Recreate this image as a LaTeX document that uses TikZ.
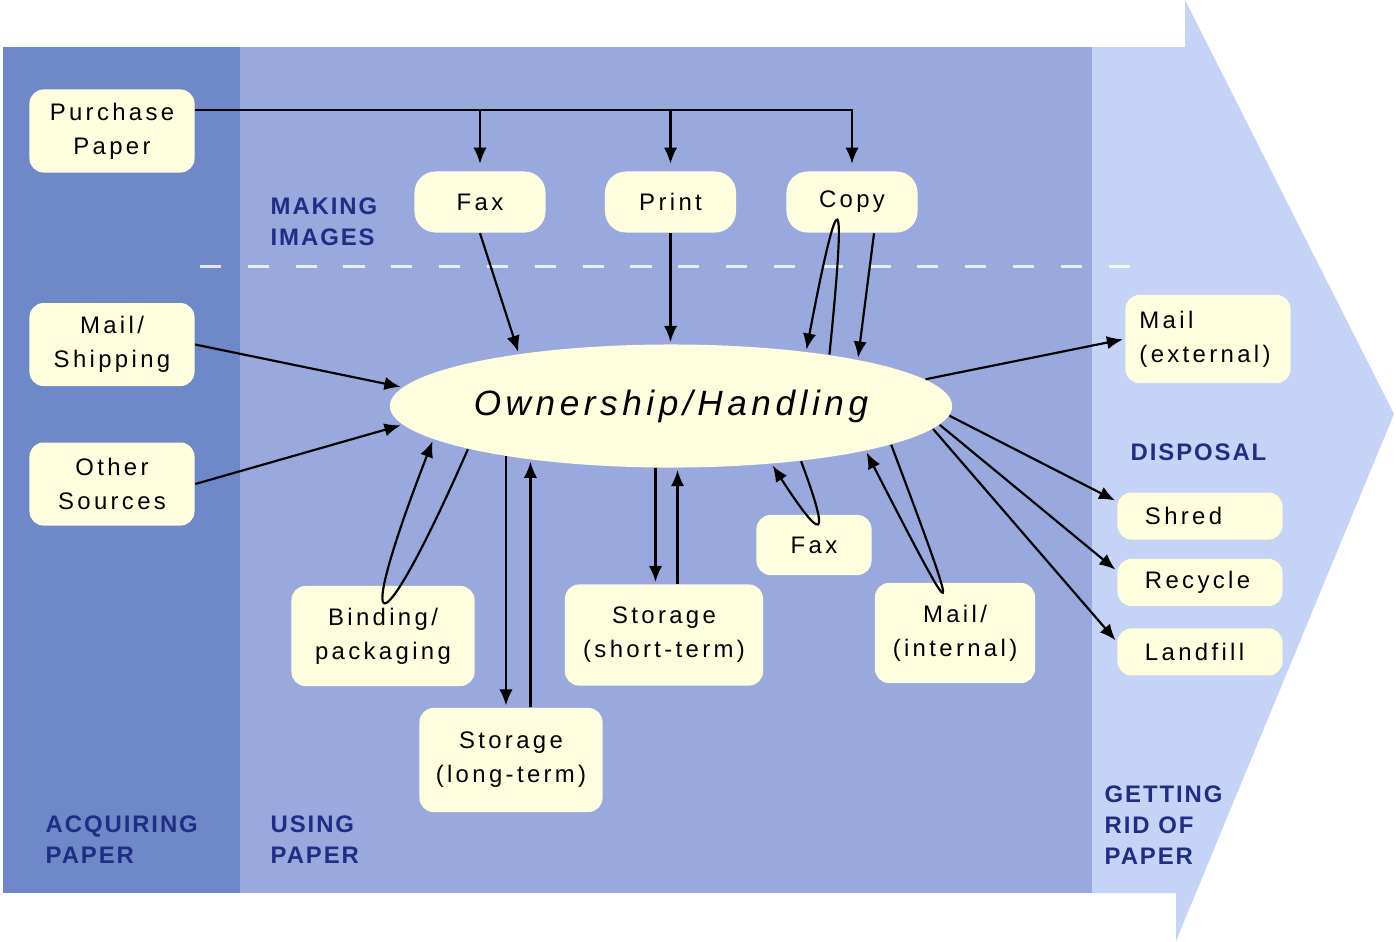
\documentclass[tikz,border=0pt]{standalone}
\usepackage{fontspec}
\setmainfont{Liberation Sans}
\newfontfamily\boxfont[LetterSpace=14]{Liberation Sans}
\newfontfamily\headfont[LetterSpace=8]{Liberation Sans}
\newfontfamily\ownfont[LetterSpace=13]{Liberation Sans}
\usetikzlibrary{calc}
\usetikzlibrary{positioning}
\usetikzlibrary{shapes}
\usetikzlibrary{arrows.meta}
\definecolor{acqblue}{HTML}{6E88C8}
\definecolor{useblue}{HTML}{99A9DD}
\definecolor{ridblue}{HTML}{C5D3F6}
\definecolor{paperfill}{HTML}{FEFEDF}
\definecolor{headnavy}{HTML}{1F2D84}
\tikzset{paperbox/.style={shape=rectangle, rounded corners=4pt, fill=paperfill, minimum width=1.65cm, minimum height=0.83cm, inner sep=1pt, align=center, font=\boxfont\fontsize{6.8}{9.7}\selectfont},
  imagebox/.style={paperbox, rounded corners=6pt, minimum width=1.31cm, minimum height=0.61cm},
  disposal/.style={paperbox, text width=1.1cm, align=left, inner xsep=0.2cm, minimum height=0.47cm},
  headlabel/.style={anchor=west, align=left, inner sep=0pt, text=headnavy, font=\headfont\bfseries\fontsize{6.8}{8.8}\selectfont},
  flow/.style={-{Latex[length=4.6pt,width=3.8pt]}, line width=0.62pt, shorten >=0.5pt}}

\begin{document}
\begin{tikzpicture}[x=0.01cm, y=-0.01cm]
    % lanes
    \useasboundingbox[fill=white] (0,0) rectangle (1396,941);
    \fill[ridblue] (1092,47) -- (1185,47) -- (1185,0) -- (1394,414) -- (1176,941) -- (1176,893) -- (1092,893) -- cycle;
    \fill[useblue] (240,47) rectangle (1092,893);
    \fill[acqblue] (3,47) rectangle (240,893);
    \draw[white, opacity=0.8, line width=0.85pt, dash pattern=on 6pt off 7.6pt] (200,266) -- (1155,266);

    \node[headlabel] (acqtitle) at (45,840) {ACQUIRING\\PAPER};
    \node[headlabel] (usetitle) at (270,840) {USING\\PAPER};
    \node[headlabel] (ridtitle) at (1104,825) {GETTING\\RID OF\\PAPER};
    \node[headlabel] (imgtitle) at (270,222) {MAKING\\IMAGES};
    \node[headlabel] (distitle) at (1130,452) {DISPOSAL};

    \node[paperbox] (purchase) at (112,131) {Purchase\\Paper};
    \node[paperbox, below=1.29cm of purchase] (mailship) {Mail/\\Shipping};
    \node[paperbox, below=0.55cm of mailship] (other) {Other\\Sources};

    \node[imagebox] (fax) at (480,202) {Fax};
    \node[imagebox, right=0.58cm of fax] (print) {Print};
    \node[imagebox, right=0.49cm of print] (copy) {Copy};

    \node[shape=ellipse, fill=paperfill, minimum width=5.62cm, minimum height=1.23cm, inner sep=0pt,
      font=\ownfont\itshape\fontsize{10}{12}\selectfont] (own) at (671,406) {Ownership/Handling};

    \node[paperbox, minimum width=1.15cm, minimum height=0.6cm] (faxout) at (814,545) {Fax};
    \node[paperbox, minimum width=1.83cm, minimum height=1cm] (binding) at (383,636) {Binding/\\packaging};
    \node[paperbox, minimum width=1.98cm, minimum height=1.01cm] (shortterm) at (664,635) {Storage\\(short-term)};
    \node[paperbox, minimum width=1.83cm, minimum height=1.04cm] (longterm) at (511,760) {Storage\\(long-term)};
    \node[paperbox, minimum width=1.6cm, minimum height=1cm] (mailint) at (955,633) {Mail/\\(internal)};

    \node[paperbox, text width=1.37cm, align=left, inner xsep=0.13cm, minimum height=0.88cm] (mailext) at (1208,339) {Mail\\(external)};
    \node[disposal] (shred) at (1200,516) {Shred};
    \node[disposal, below=0.18cm of shred] (recycle) {Recycle};
    \node[disposal, below=0.21cm of recycle] (landfill) {Landfill};

    % acquiring
    \draw[flow, shorten >=2pt] (purchase.14) -| (copy.north);
    \draw[flow, shorten >=2pt] (purchase.14 -| fax.north) -- (fax.north);
    \draw[flow, shorten >=2pt] (purchase.14 -| print.north) -- (print.north);
    \draw[flow] (mailship.east) -- (own.176);
    \draw[flow] (other.east) -- (own.184);

    % making images
    \draw[flow] (fax.south) -- (own.161);
    \draw[flow] (print.south) -- (print.south |- own.north);
    \draw[flow] ($(copy.south)+(22,0)$) -- (own.14);
    \draw[flow] (own.18) .. controls +(18,-176) and +(33,-174) .. (own.22);

    % using
    \draw[flow] (own.192) .. controls +(-90,205) and +(-83,214) .. (own.188);
    \draw[flow] (own.197) -- (own.197 |- longterm.north);
    \draw[flow] (own.201 |- longterm.north) -- (own.201);
    \draw[flow] (own.256) -- (own.256 |- shortterm.north);
    \draw[flow] (own.276 |- shortterm.north) -- (own.276);
    \draw[flow] (own.-23) .. controls +(31,83) and +(50,77) .. (own.-30);
    \draw[flow] (own.-10) .. controls +(73,194) and +(96,187) .. (own.-13);

    % getting rid of
    \draw[flow] (own.6) -- (mailext.west);
    \draw[flow] (own.-2) -- (shred.170);
    \draw[flow] (own.-4) -- (recycle.172);
    \draw[flow] (own.-5) -- (landfill.173);
  \end{tikzpicture}
\end{document}
